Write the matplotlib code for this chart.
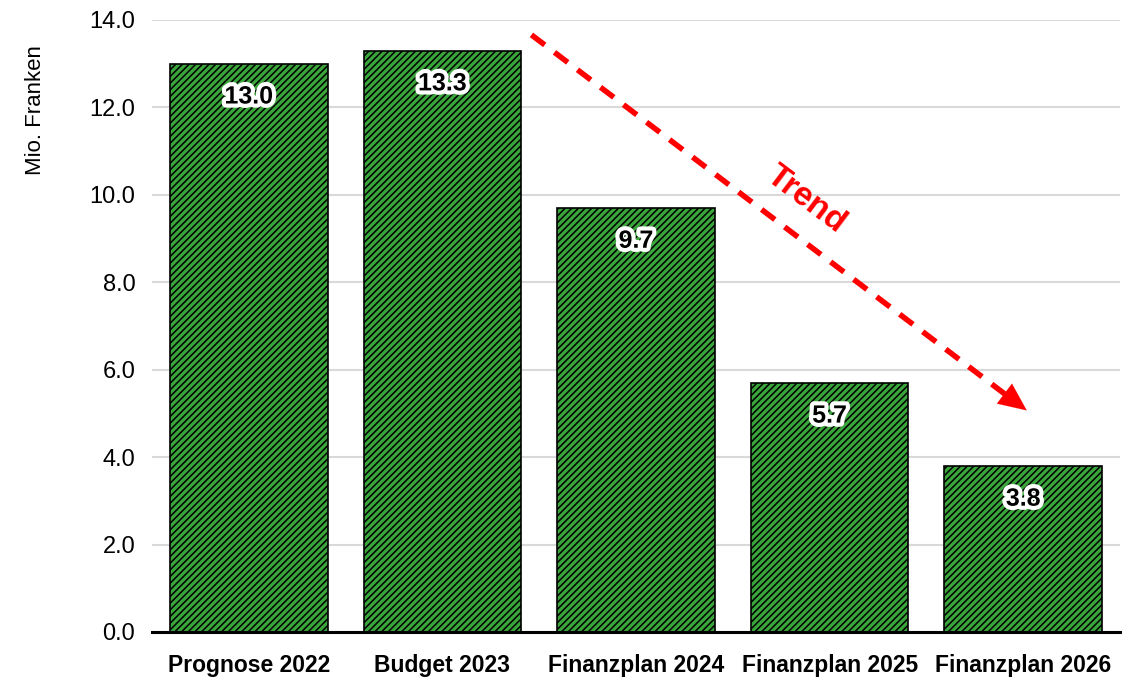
import matplotlib as mpl
mpl.use('Agg')
import matplotlib.pyplot as plt
import matplotlib.patheffects as pe
from matplotlib import font_manager

kategorien = ["Prognose 2022", "Budget 2023", "Finanzplan 2024", "Finanzplan 2025", "Finanzplan 2026"]
werte = [13.0, 13.3, 9.7, 5.7, 3.8]
yticks = [0, 2, 4, 6, 8, 10, 12, 14]

namen = {f.name for f in font_manager.fontManager.ttflist}
schrift = 'Liberation Sans Narrow' if 'Liberation Sans Narrow' in namen else 'Liberation Sans'
plt.rcParams['font.family'] = [schrift, 'DejaVu Sans']
plt.rcParams['hatch.linewidth'] = 1.1
plt.rcParams['hatch.color'] = 'black'

fig = plt.figure(figsize=(11.47, 6.86), dpi=100)
ax = fig.add_axes([152/1147, 54/686, 968/1147, 612/686])

x = range(len(kategorien))
ax.bar(x, werte, width=0.815, color='#3aa53a', edgecolor='black', linewidth=1.2,
       hatch='/////', zorder=3)

for xi, v in zip(x, werte):
    ax.text(xi, v - 0.75, f"{v:.1f}", ha='center', va='center', fontsize=18, fontweight='bold',
            color='black', zorder=5,
            path_effects=[pe.withStroke(linewidth=6, foreground='white')])

ax.set_xlim(-0.5, 4.5)
ax.set_ylim(0, 14)
ax.set_yticks(yticks)
ax.set_yticklabels([f"{t:.1f}" for t in yticks], fontsize=17)
ax.set_xticks(list(x))
ax.set_xticklabels(kategorien, fontsize=16.5, fontweight='bold')
ax.tick_params(length=0, pad=12)
ax.tick_params(axis='x', pad=16)
ax.grid(axis='y', color='#d9d9d9', linewidth=1.5, zorder=0)
for s in ['left', 'right', 'top']:
    ax.spines[s].set_visible(False)
ax.spines['bottom'].set_linewidth(2.2)
ax.spines['bottom'].set_zorder(4)
ax.set_ylabel("Mio. Franken", fontsize=16)
ax.yaxis.set_label_coords(-0.11, 0.853)

# Trendpfeil
x0, y0, x1, y1 = 1.46, 13.66, 4.03, 5.03
ax.plot([x0, x1 - 0.1], [y0, y1 + 0.33], color='#ff0000', linewidth=4, linestyle=(0, (3, 2.2)),
        zorder=6, solid_capstyle='butt', dash_capstyle='butt')
ax.annotate('', xy=(x1, y1), xytext=(x1 - 0.12, y1 + 0.4),
            arrowprops=dict(arrowstyle='-|>,head_length=1.0,head_width=0.45', color='#ff0000',
                            linewidth=0.1, mutation_scale=20), zorder=6)
ax.text(2.88, 9.9, "Trend", color='#ff0000', fontsize=24, fontweight='bold', rotation=-37,
        ha='center', va='center', zorder=6)

fig.savefig('out.png', dpi=100)
